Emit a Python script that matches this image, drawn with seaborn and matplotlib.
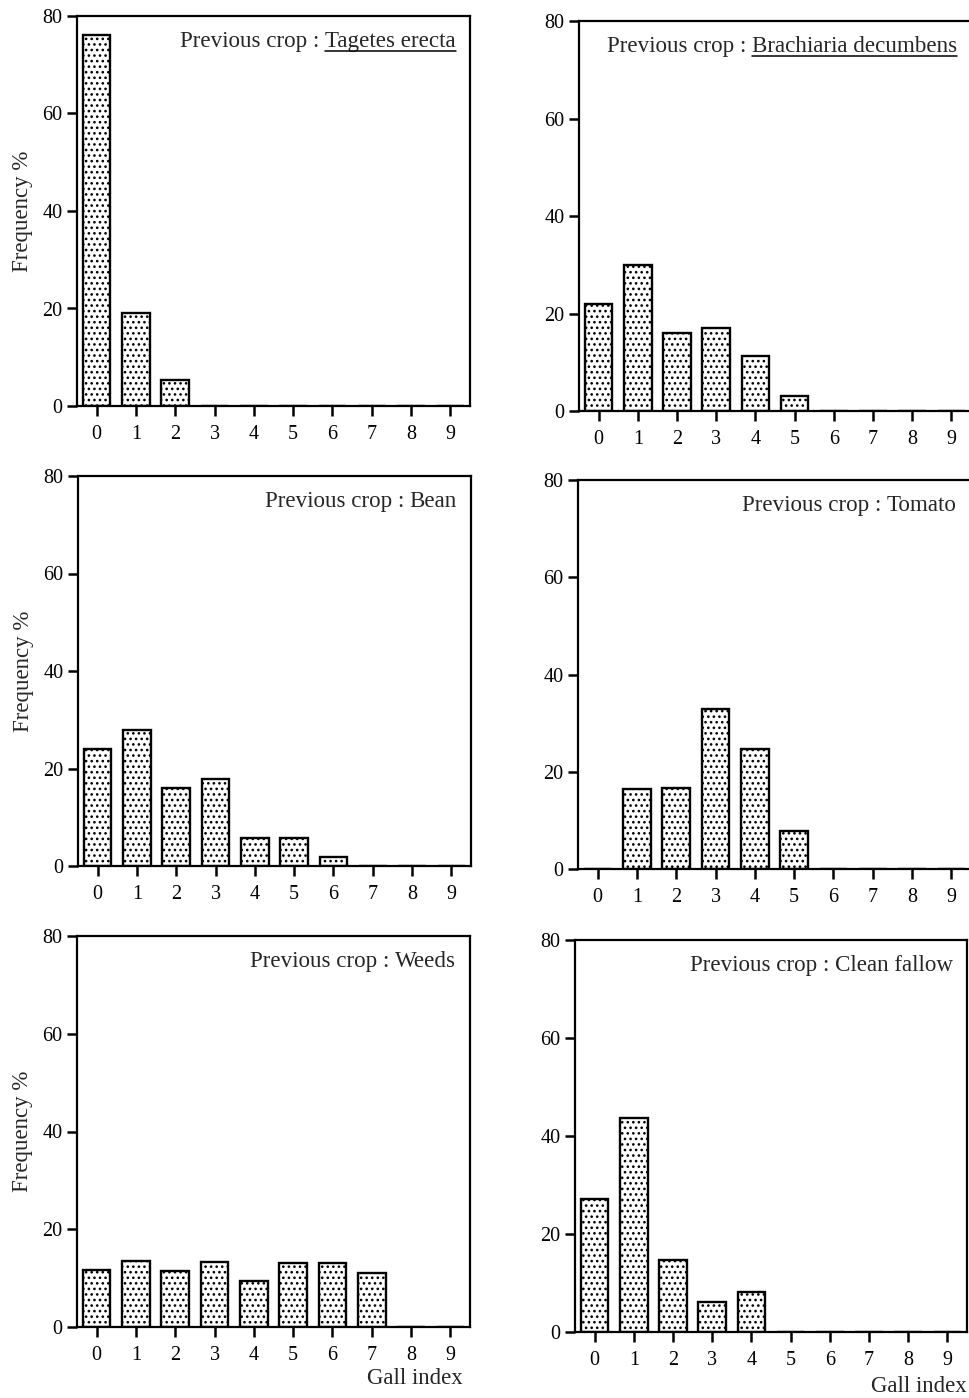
import numpy as np
import pandas as pd
import matplotlib
matplotlib.use('Agg')
from matplotlib import pyplot as plt
from matplotlib.lines import Line2D
import seaborn as sns

# gall index classes and frequency (%) per previous crop
gall_index = list(range(10))
tagetes = [76, 19, 5.3, 0, 0, 0, 0, 0, 0, 0]
brachiaria = [22, 30, 16, 17, 11.3, 3.1, 0, 0, 0, 0]
bean = [24, 28, 16, 17.8, 5.8, 5.8, 1.8, 0, 0, 0]
tomato = [0, 16.5, 16.6, 33, 24.6, 7.9, 0, 0, 0, 0]
weeds = [11.6, 13.6, 11.4, 13.3, 9.5, 13.1, 13.1, 11.0, 0, 0]
clean_fallow = [27.2, 43.6, 14.6, 6.1, 8.2, 0, 0, 0, 0, 0]

crop_names = ['Tagetes erecta', 'Brachiaria decumbens', 'Bean', 'Tomato', 'Weeds', 'Clean fallow']
underlined = [True, True, False, False, False, False]
series = [tagetes, brachiaria, bean, tomato, weeds, clean_fallow]

sns.set_style('ticks')
plt.rcParams['font.family'] = ['Liberation Serif', 'DejaVu Serif']
plt.rcParams['hatch.linewidth'] = 1.1
plt.rcParams['hatch.color'] = 'black'

W, H = 970, 1398
fig = plt.figure(figsize=(W / 100, H / 100), dpi=100)

# axes frames in pixels: left, top, right, bottom
boxes = [(77, 16, 470, 406), (579, 21, 971, 411),
         (78, 476, 471, 866), (578, 480, 971, 869),
         (77, 936, 470, 1327), (575, 940, 967, 1332)]

to_underline = []
for i, (box, name, values) in enumerate(zip(boxes, crop_names, series)):
    x0, y0, x1, y1 = box
    ax = fig.add_axes([x0 / W, 1 - y1 / H, (x1 - x0) / W, (y1 - y0) / H])
    df = pd.DataFrame({'gall': gall_index, 'freq': values})
    sns.barplot(data=df, x='gall', y='freq', order=gall_index, color='white',
                saturation=1, edgecolor='black', linewidth=1.7, hatch='...',
                width=0.7, errorbar=None, ax=ax)
    ax.set_xlim(-0.5, 9.5)
    ax.set_ylim(0, 80)
    ax.set_yticks([0, 20, 40, 60, 80])
    ax.set_xlabel('')
    ax.set_ylabel('')
    for s in ax.spines.values():
        s.set_visible(True)
        s.set_linewidth(1.6)
        s.set_color('black')
    ax.tick_params(axis='both', direction='out', length=7.5, width=1.8,
                   labelsize=14.5, colors='black')
    ax.tick_params(axis='x', pad=6.5)
    ax.tick_params(axis='y', pad=3)

    if i % 2 == 0:
        ax.set_ylabel('Frequency %', fontsize=16.5)
        ax.yaxis.set_label_coords(-0.113, 0.5)

    species = ax.annotate(name, xy=(1, 1), xycoords='axes fraction',
                          xytext=(-14 * 0.72, -31 * 0.72), textcoords='offset points',
                          ha='right', va='baseline', fontsize=16.6)
    ax.annotate('Previous crop :', xy=(0, 0), xycoords=species,
                xytext=(-4, 0), textcoords='offset points',
                ha='right', va='bottom', fontsize=16.6)
    if underlined[i]:
        to_underline.append(species)

fig.text(463 / W, 1 - 1379 / H, 'Gall index', ha='right', va='center', fontsize=16.5)
fig.text(967 / W, 1 - 1387 / H, 'Gall index', ha='right', va='center', fontsize=16.5)

fig.canvas.draw()
for t in to_underline:
    bb = t.get_window_extent()
    y = (bb.y0 + 1.5) / H
    fig.add_artist(Line2D([bb.x0 / W, bb.x1 / W], [y, y], transform=fig.transFigure,
                          color='black', linewidth=1.1))

fig.savefig('out.png', dpi=100)
